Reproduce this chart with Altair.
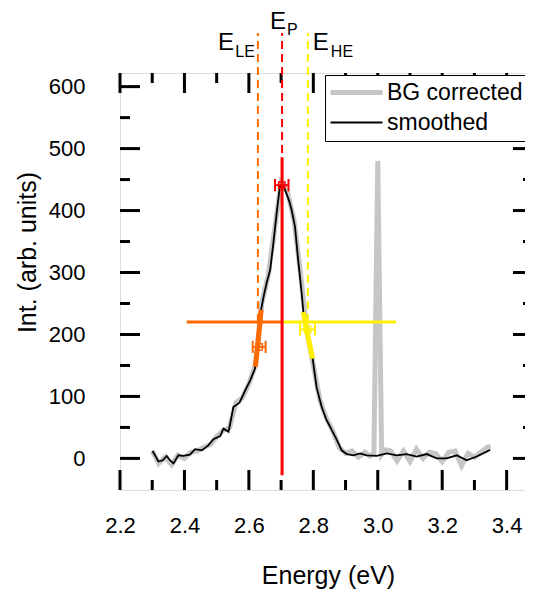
import altair as alt
import pandas as pd

# ---------------- data ----------------
bg_energy = [2.30, 2.32, 2.34, 2.36, 2.38, 2.40, 2.42, 2.44, 2.46, 2.48, 2.50, 2.52, 2.54,
             2.56, 2.58, 2.60, 2.62, 2.64, 2.66, 2.68, 2.70, 2.72, 2.74, 2.76, 2.78, 2.80,
             2.82, 2.84, 2.86, 2.88, 2.90, 2.92, 2.94, 2.96, 2.975, 2.988, 3.00, 3.012, 3.025,
             3.04, 3.06, 3.08, 3.10, 3.12, 3.14, 3.16, 3.18, 3.20, 3.22, 3.24, 3.26, 3.28,
             3.30, 3.32, 3.34, 3.35]
bg_intensity = [12, -8, 2, -10, 5, 0, 10, 12, 18, 22, 35, 45, 50,
                90, 98, 120, 150, 250, 295, 370, 445, 430, 385, 300, 205, 150,
                95, 65, 45, 18, 8, 12, 2, 10, 4, 8, 480, 6, 14,
                12, -4, 12, -5, 15, 0, 10, 8, -5, 10, 12, -12, 8,
                2, 10, 18, 20]

smooth_energy = [2.301, 2.312, 2.319, 2.333, 2.345, 2.355, 2.366, 2.381, 2.396, 2.417, 2.433,
                 2.454, 2.474, 2.490, 2.511, 2.521, 2.537, 2.552, 2.571, 2.589, 2.604, 2.619,
                 2.630, 2.638, 2.646, 2.656, 2.666, 2.676, 2.686, 2.696, 2.702, 2.710, 2.717,
                 2.726, 2.733, 2.743, 2.753, 2.764, 2.769, 2.784, 2.798, 2.810, 2.826, 2.841,
                 2.857, 2.873, 2.888, 2.904, 2.924, 2.945, 2.966, 2.997, 3.028, 3.059, 3.090,
                 3.121, 3.152, 3.183, 3.214, 3.245, 3.276, 3.307, 3.338, 3.349]
smooth_intensity = [12, 2, -5, -3, 4, -3, -8, 5, 4, 6, 15,
                    13, 21, 31, 36, 48, 43, 83, 90, 110, 126, 145,
                    190, 240, 262, 285, 304, 347, 395, 438, 443, 436, 427,
                    414, 400, 374, 320, 266, 236, 198, 161, 115, 83, 62,
                    46, 30, 13, 7, 5, 8, 5, 4, 8, 5, 7,
                    3, 7, 0, 0, 5, -3, 3, 11, 14]

series_names = ["BG corrected", "smoothed"]
series_colors = ["#c6c6c6", "#000000"]
series_widths = [5, 1.8]

# characteristic energies (low-energy edge, peak, high-energy edge)
marker_subs = ["LE", "P", "HE"]
marker_energy = [2.628, 2.703, 2.783]
marker_colors = ["#ff6a00", "#ff0000", "#fff000"]

half_max = 220
hline_start = [2.407, 2.703]
hline_end = [2.703, 3.057]
hline_colors = ["#ff6a00", "#fff000"]

peak_line_energy = [2.703]
peak_line_low = [-27]
peak_line_high = [486]

le_seg_energy = [2.620, 2.627, 2.633, 2.638]
le_seg_intensity = [148, 180, 212, 240]
he_seg_energy = [2.769, 2.778, 2.788, 2.798]
he_seg_intensity = [236, 210, 185, 161]

err_energy = [2.702, 2.632, 2.782]
err_intensity = [441, 180, 208]
err_denergy = [0.021, 0.020, 0.023]
err_cap = 10
err_colors = ["#ff0000", "#ff6a00", "#fff000"]

x_major = [2.2, 2.4, 2.6, 2.8, 3.0, 3.2, 3.4]
x_minor = [2.3, 2.5, 2.7, 2.9, 3.1, 3.3]
y_major = [0, 100, 200, 300, 400, 500, 600]
y_minor = [50, 150, 250, 350, 450, 550]

# ---------------- layout ----------------
W, H = 413, 417
X_MIN = 2.2
X_MAX = 2.2 + W / 322.2
Y_MIN, Y_MAX = -51, 622
FONT = "Liberation Sans"

xs = alt.Scale(domain=[X_MIN, X_MAX], nice=False, zero=False)
ys = alt.Scale(domain=[Y_MIN, Y_MAX], nice=False, zero=False)
cscale = alt.Scale(domain=series_names, range=series_colors)
wscale = alt.Scale(type="point", domain=series_names, range=series_widths, padding=0)

legend = alt.Legend(
    title=None, orient="none", legendX=205, legendY=2,
    symbolType="M-5.2,0H5.2", symbolSize=100, symbolOffset=14,
    labelOffset=19, labelFontSize=23, labelFont=FONT, labelColor="black",
    rowPadding=6, padding=6, strokeColor="black", fillColor="white",
)

x_axis = alt.Axis(values=x_major, format=".1f", title="Energy (eV)", ticks=False, tickSize=0,
                  domain=False, grid=False, labelFontSize=22, labelFont=FONT, labelPadding=25,
                  labelFlush=False, labelColor="black", titleFontSize=25, titleFont=FONT,
                  titleFontWeight="normal", titleColor="black", titleX=208, titleY=93,
                  titleBaseline="alphabetic", titleAlign="center")
y_axis = alt.Axis(values=y_major, title="Int. (arb. units)", ticks=False, tickSize=0,
                  domain=False, grid=False, labelFontSize=22, labelFont=FONT, labelPadding=35,
                  labelFlush=False, labelColor="black", titleFontSize=25, titleFont=FONT,
                  titleFontWeight="normal", titleColor="black", titleX=-85, titleY=179,
                  titleAngle=270, titleBaseline="alphabetic", titleAlign="center")


def X(f):
    return alt.X(f, type="quantitative", scale=xs, axis=x_axis)


def Y(f):
    return alt.Y(f, type="quantitative", scale=ys, axis=y_axis)


bg_df = pd.DataFrame({"E": bg_energy, "I": bg_intensity, "series": series_names[0]})
sm_df = pd.DataFrame({"E": smooth_energy, "I": smooth_intensity, "series": series_names[1]})

bg_line = alt.Chart(bg_df).mark_line().encode(
    x=X("E"), y=Y("I"),
    color=alt.Color("series:N", scale=cscale, legend=legend),
    strokeWidth=alt.StrokeWidth("series:N", scale=wscale, legend=legend),
)
sm_line = alt.Chart(sm_df).mark_line().encode(
    x=X("E"), y=Y("I"),
    color=alt.Color("series:N", scale=cscale, legend=legend),
    strokeWidth=alt.StrokeWidth("series:N", scale=wscale, legend=legend),
)

# dashed marker lines
mk_df = pd.DataFrame({"E": marker_energy, "c": marker_colors, "I0": [half_max] * 3})
dashed = alt.Chart(mk_df).mark_rule(strokeWidth=2, strokeDash=[8, 5]).encode(
    x=X("E"), y=Y("I0"), y2=alt.value(-40), stroke=alt.Stroke("c:N", scale=None))

# horizontal half-max lines
hl_df = pd.DataFrame({"a": hline_start, "b": hline_end, "I": [half_max] * 2, "c": hline_colors})
hlines = alt.Chart(hl_df).mark_rule(strokeWidth=3).encode(
    x=X("a"), x2="b", y=Y("I"), stroke=alt.Stroke("c:N", scale=None))

# thick segments
le_df = pd.DataFrame({"E": le_seg_energy, "I": le_seg_intensity})
he_df = pd.DataFrame({"E": he_seg_energy, "I": he_seg_intensity})
le_seg = alt.Chart(le_df).mark_line(strokeWidth=5, color=marker_colors[0]).encode(
    x=X("E"), y=Y("I"), order="I:Q")
he_seg = alt.Chart(he_df).mark_line(strokeWidth=5, color=marker_colors[2]).encode(
    x=X("E"), y=Y("I"), order="I:Q")

# red peak line
pk_df = pd.DataFrame({"E": peak_line_energy, "lo": peak_line_low, "hi": peak_line_high})
peak_line = alt.Chart(pk_df).mark_rule(strokeWidth=3, color="#ff0000").encode(
    x=X("E"), y=Y("lo"), y2="hi")

# error bars
eb_df = pd.DataFrame({"E": err_energy, "I": err_intensity, "dE": err_denergy, "c": err_colors})
eb_df["lo"] = eb_df["E"] - eb_df["dE"]
eb_df["hi"] = eb_df["E"] + eb_df["dE"]
eb_df["ylo"] = eb_df["I"] - err_cap
eb_df["yhi"] = eb_df["I"] + err_cap
eb_h = alt.Chart(eb_df).mark_rule(strokeWidth=2).encode(
    x=X("lo"), x2="hi", y=Y("I"), stroke=alt.Stroke("c:N", scale=None))
eb_c1 = alt.Chart(eb_df).mark_rule(strokeWidth=2).encode(
    x=X("lo"), y=Y("ylo"), y2="yhi", stroke=alt.Stroke("c:N", scale=None))
eb_c2 = alt.Chart(eb_df).mark_rule(strokeWidth=2).encode(
    x=X("hi"), y=Y("ylo"), y2="yhi", stroke=alt.Stroke("c:N", scale=None))
eb_pt = alt.Chart(eb_df).mark_point(shape="square", filled=False, size=40, strokeWidth=1.5,
                                    opacity=1).encode(
    x=X("E"), y=Y("I"), stroke=alt.Stroke("c:N", scale=None))

# labels E_LE, E_P, E_HE
label_layers = []
main_dx = [-24, -12, 5]
main_align = ["right", "left", "left"]
main_y = [-23, -44, -23]
sub_dx = [-3, 5, 23]
sub_align = ["right", "left", "left"]
sub_y = [-16, -38, -16]
for i in range(3):
    d = pd.DataFrame({"E": [marker_energy[i]], "t": ["E"], "s": [marker_subs[i]]})
    label_layers.append(alt.Chart(d).mark_text(
        fontSize=24, font=FONT, color="black", align=main_align[i], baseline="alphabetic",
        dx=main_dx[i]).encode(x=X("E"), y=alt.value(main_y[i]), text="t:N"))
    label_layers.append(alt.Chart(d).mark_text(
        fontSize=16, font=FONT, color="black", align=sub_align[i], baseline="alphabetic",
        dx=sub_dx[i]).encode(x=X("E"), y=alt.value(sub_y[i]), text="s:N"))


# inward ticks on all four sides
def xticks(vals, y0, y1):
    return alt.Chart(pd.DataFrame({"v": vals})).mark_rule(strokeWidth=3, color="black").encode(
        x=X("v"), y=alt.value(y0), y2=alt.value(y1))


def yticks(vals, x0, x1):
    return alt.Chart(pd.DataFrame({"v": vals})).mark_rule(strokeWidth=3, color="black").encode(
        y=Y("v"), x=alt.value(x0), x2=alt.value(x1))


ticks = [
    xticks(x_major, H, H - 20), xticks(x_minor, H, H - 10),
    xticks(x_major, 0, 20), xticks(x_minor, 0, 10),
    yticks(y_major, 0, 20), yticks(y_minor, 0, 10),
    yticks(y_major, W, W - 20), yticks(y_minor, W, W - 10),
]

chart = alt.layer(
    bg_line, sm_line, *ticks, dashed, hlines, le_seg, he_seg, peak_line,
    eb_h, eb_c1, eb_c2, eb_pt, *label_layers,
).properties(
    width=W, height=H,
    autosize=alt.AutoSizeParams(type="none"),
    padding={"left": 112, "top": 65, "right": -8, "bottom": 99},
).configure_view(stroke="black", strokeWidth=4).configure(background="white")

chart.save("out.html", embed_options={"renderer": "svg", "actions": False})
